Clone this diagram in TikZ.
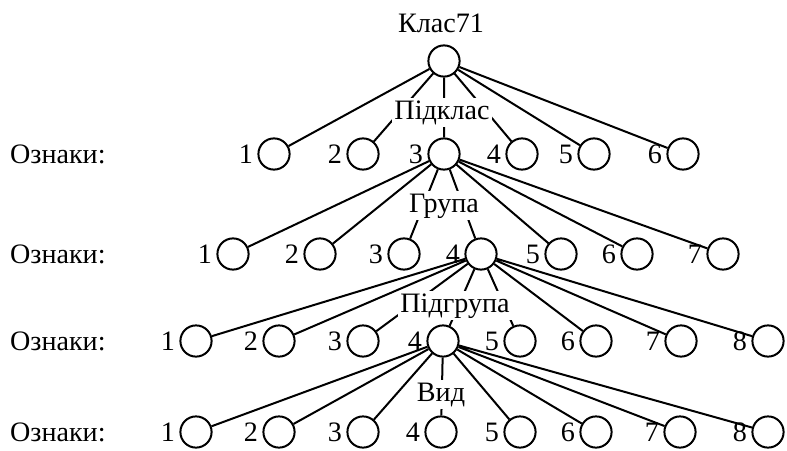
\documentclass[tikz,border=0pt]{standalone}
\usepackage{fontspec}
\setmainfont{Liberation Serif}

\begin{document}
\begin{tikzpicture}[
  x=0.25mm,y=-0.25mm,
  line width=0.5mm,
  every node/.style={draw,circle,minimum size=7.8mm,inner sep=0pt,
   font=\fontsize{20}{24}\selectfont},
  every label/.style={draw=none,rectangle,minimum size=0pt,inner sep=2.5pt},
  word/.style={draw=none,rectangle,minimum size=0pt,fill=white,inner sep=1.5pt}
  ]
  \useasboundingbox (0,0) rectangle (787,450);

  \node (K) at (444,61) {};

  \node (P1) [label=left:{1}] at (274,154) {};
  \node (P2) [label=left:{2}] at (363,154) {};
  \node (P3) [label=left:{3}] at (444,154) {};
  \node (P4) [label=left:{4}] at (522,154) {};
  \node (P5) [label=left:{5}] at (594,154) {};
  \node (P6) [label=left:{6}] at (683,154) {};

  \node (G1) [label=left:{1}] at (233,254) {};
  \node (G2) [label=left:{2}] at (320,254) {};
  \node (G3) [label=left:{3}] at (404,254) {};
  \node (G4) [label=left:{4}] at (481,254) {};
  \node (G5) [label=left:{5}] at (561,254) {};
  \node (G6) [label=left:{6}] at (637,254) {};
  \node (G7) [label=left:{7}] at (723,254) {};

  \node (S1) [label=left:{1}] at (196,341) {};
  \node (S2) [label=left:{2}] at (279,341) {};
  \node (S3) [label=left:{3}] at (363,341) {};
  \node (S4) [label=left:{4}] at (443,341) {};
  \node (S5) [label=left:{5}] at (520,341) {};
  \node (S6) [label=left:{6}] at (596,341) {};
  \node (S7) [label=left:{7}] at (681,341) {};
  \node (S8) [label=left:{8}] at (768,341) {};

  \node (V1) [label=left:{1}] at (196,432) {};
  \node (V2) [label=left:{2}] at (279,432) {};
  \node (V3) [label=left:{3}] at (363,432) {};
  \node (V4) [label=left:{4}] at (441,432) {};
  \node (V5) [label=left:{5}] at (520,432) {};
  \node (V6) [label=left:{6}] at (596,432) {};
  \node (V7) [label=left:{7}] at (680,432) {};
  \node (V8) [label=left:{8}] at (768,432) {};

  \draw (K) -- (P1) (K) -- (P2) (K) -- (P3)
        (K) -- (P4) (K) -- (P5) (K) -- (P6);
  \draw (P3) -- (G1) (P3) -- (G2) (P3) -- (G3) (P3) -- (G4)
        (P3) -- (G5) (P3) -- (G6) (P3) -- (G7);
  \draw (G4) -- (S1) (G4) -- (S2) (G4) -- (S3) (G4) -- (S4)
        (G4) -- (S5) (G4) -- (S6) (G4) -- (S7) (G4) -- (S8);
  \draw (S4) -- (V1) (S4) -- (V2) (S4) -- (V3) (S4) -- (V4)
        (S4) -- (V5) (S4) -- (V6) (S4) -- (V7) (S4) -- (V8);

  \node[word,anchor=base] (Ktext) at (441,33) {Клас71};
  \node[word,anchor=base] (Ptext) at (442,119) {Підклас};
  \node[word,anchor=base] (Gtext) at (444,212) {Група};
  \node[word,anchor=base] (Stext) at (455,312) {Підгрупа};
  \node[word,anchor=base] (Vtext) at (441,401) {Вид};

  \node[word,anchor=base west] (O1) at (7,163) {Ознаки:};
  \node[word,anchor=base west] (O2) at (7,263) {Ознаки:};
  \node[word,anchor=base west] (O3) at (7,350) {Ознаки:};
  \node[word,anchor=base west] (O4) at (7,441) {Ознаки:};
 \end{tikzpicture}
\end{document}
